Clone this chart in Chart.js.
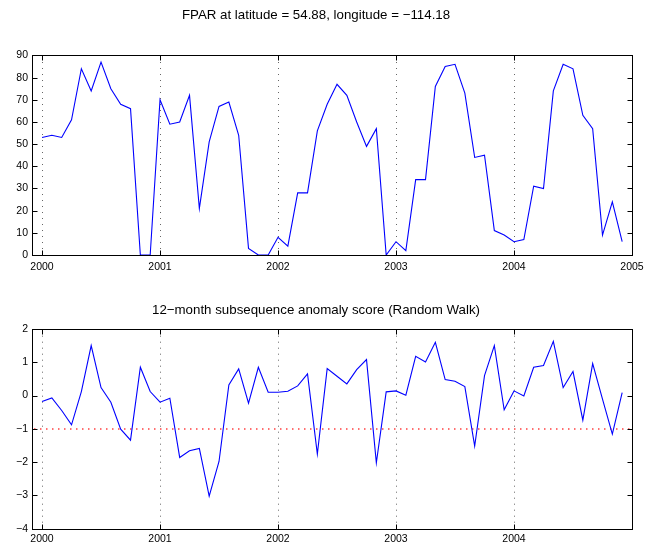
<!DOCTYPE html>
<html>
<head>
<meta charset="utf-8">
<script src="https://cdn.jsdelivr.net/npm/chart.js@4/dist/chart.umd.min.js"></script>
<style>
  html, body { margin: 0; padding: 0; background: #fff; }
  #wrap { position: relative; width: 663px; height: 546px; }
  #c1 { position: absolute; left: 0; top: 0; }
  #c2 { position: absolute; left: 0; top: 280px; }
</style>
</head>
<body>
<div id="wrap">
  <canvas id="c1" width="663" height="280"></canvas>
  <canvas id="c2" width="663" height="266"></canvas>
</div>
<script>
// ---- data ----
const startYear = 2000;
const monthsPerYear = 12;
const topTitle = 'FPAR at latitude = 54.88, longitude = \u2212114.18';
const bottomTitle = '12\u2212month subsequence anomaly score (Random Walk)';
const topYearTicks = [2000, 2001, 2002, 2003, 2004, 2005];
const bottomYearTicks = [2000, 2001, 2002, 2003, 2004];
const fparTicks = [0, 10, 20, 30, 40, 50, 60, 70, 80, 90];
const anomalyTicks = [-4, -3, -2, -1, 0, 1, 2];
const anomalyThreshold = -1;
const fpar = [
  53, 54, 53, 61, 84, 74, 87, 75, 68, 66, 0, 0,
  70, 59, 60, 72, 21, 51, 67, 69, 54, 3, 0, 0,
  8, 4, 28, 28, 56, 68, 77, 72, 60, 49, 57, 0,
  6, 2, 34, 34, 76, 85, 86, 73, 44, 45, 11, 9,
  6, 7, 31, 30, 74, 86, 84, 63, 57, 9, 24, 6
];
const anomaly = [
  -0.18, -0.07, -0.45, -0.88, 0.12, 1.50, 0.24, -0.20, -1.01, -1.34, 0.85, 0.12,
  -0.20, -0.08, -1.86, -1.66, -1.59, -3.02, -1.98, 0.32, 0.80, -0.23, 0.85, 0.10,
  0.10, 0.13, 0.29, 0.65, -1.76, 0.81, 0.58, 0.35, 0.78, 1.08, -2.02, 0.11,
  0.14, 0.01, 1.18, 1.01, 1.60, 0.48, 0.43, 0.27, -1.52, 0.60, 1.50, -0.43,
  0.14, -0.01, 0.85, 0.90, 1.63, 0.24, 0.72, -0.74, 0.96, -0.11, -1.16, 0.09
];

// ---- helpers ----
const FONT = "'Liberation Sans', Arial, Helvetica, sans-serif";
const toPoints = arr => arr.map((v, i) => ({ x: startYear + i / monthsPerYear, y: v }));
const fmt = v => String(v).replace('-', '\u2212');

const matlabAxes = {
  id: 'matlabAxes',
  beforeDatasetsDraw(chart, args, opts) {
    const { ctx, chartArea: a, scales } = chart;
    const xs = scales.x;
    ctx.save();
    ctx.lineWidth = 1;
    ctx.setLineDash([1, 5]);
    ctx.strokeStyle = '#666';
    opts.xTicks.forEach(v => {
      const px = Math.round(xs.getPixelForValue(v)) + 0.5;
      if (px > a.right - 1) return;
      ctx.beginPath();
      ctx.moveTo(px, a.bottom);
      ctx.lineTo(px, a.top);
      ctx.stroke();
    });
    if (opts.refLine !== undefined) {
      const py = Math.round(scales.y.getPixelForValue(opts.refLine));
      ctx.strokeStyle = '#ff4040';
      ctx.lineWidth = 1.6;
      ctx.setLineDash([1.5, 4.5]);
      ctx.beginPath();
      ctx.moveTo(a.left + 2, py);
      ctx.lineTo(a.right, py);
      ctx.stroke();
    }
    ctx.restore();
  },
  afterDatasetsDraw(chart, args, opts) {
    const { ctx, chartArea: a, scales } = chart;
    const L = Math.round(a.left) + 0.5, R = Math.round(a.right) + 0.5;
    const T = Math.round(a.top) + 0.5, B = Math.round(a.bottom) + 0.5;
    ctx.save();
    ctx.setLineDash([]);
    ctx.strokeStyle = '#000';
    ctx.lineWidth = 1;
    ctx.strokeRect(L, T, R - L, B - T);
    const tl = 5;
    ctx.beginPath();
    opts.xTicks.forEach(v => {
      const px = Math.round(scales.x.getPixelForValue(v)) + 0.5;
      ctx.moveTo(px, B); ctx.lineTo(px, B - tl);
      ctx.moveTo(px, T); ctx.lineTo(px, T + tl);
    });
    opts.yTicks.forEach(v => {
      const py = Math.round(scales.y.getPixelForValue(v)) + 0.5;
      ctx.moveTo(L, py); ctx.lineTo(L + tl, py);
      ctx.moveTo(R, py); ctx.lineTo(R - tl, py);
    });
    ctx.stroke();
    ctx.restore();
  }
};

function makeChart(id, data, title, xTicks, yTicks, yMin, yMax, dims, refLine) {
  return new Chart(document.getElementById(id), {
    type: 'line',
    data: {
      datasets: [{
        data: toPoints(data),
        borderColor: '#0000ff',
        borderWidth: 1.1,
        pointRadius: 0,
        tension: 0,
        fill: false
      }]
    },
    plugins: [matlabAxes],
    options: {
      responsive: false,
      animation: false,
      devicePixelRatio: 1,
      layout: { padding: { left: 0, right: 31, top: 0, bottom: 0 } },
      plugins: {
        legend: { display: false },
        tooltip: { enabled: false },
        title: {
          display: true,
          text: title,
          color: '#000',
          font: { family: FONT, size: 13.3, weight: 'normal', lineHeight: 1.2 },
          padding: { top: dims.titleTop, bottom: dims.titleBottom }
        },
        matlabAxes: { xTicks: xTicks, yTicks: yTicks, refLine: refLine }
      },
      scales: {
        x: {
          type: 'linear',
          min: 1999.915,
          max: 2005,
          grid: { display: false, drawTicks: false, tickLength: 0 },
          border: { display: false },
          afterBuildTicks: s => { s.ticks = xTicks.map(v => ({ value: v })); },
          afterFit: s => { s.height = dims.xHeight; },
          ticks: {
            autoSkip: false,
            maxRotation: 0,
            padding: dims.xPad,
            color: '#000',
            font: { family: FONT, size: 10.5 },
            callback: v => fmt(v)
          }
        },
        y: {
          type: 'linear',
          min: yMin,
          max: yMax,
          grid: { display: false, drawTicks: false, tickLength: 0 },
          border: { display: false },
          afterBuildTicks: s => { s.ticks = yTicks.map(v => ({ value: v })); },
          afterFit: s => { s.width = 32; },
          ticks: {
            autoSkip: false,
            padding: 4,
            color: '#000',
            font: { family: FONT, size: 10.5 },
            callback: v => fmt(v)
          }
        }
      }
    }
  });
}

makeChart('c1', fpar, topTitle, topYearTicks, fparTicks, 0, 90,
  { titleTop: 7, titleBottom: 32.5, xHeight: 25, xPad: 6 });
makeChart('c2', anomaly, bottomTitle, bottomYearTicks, anomalyTicks, -4, 2,
  { titleTop: 22.7, titleBottom: 10.3, xHeight: 17.3, xPad: 4 }, anomalyThreshold);
</script>
</body>
</html>
